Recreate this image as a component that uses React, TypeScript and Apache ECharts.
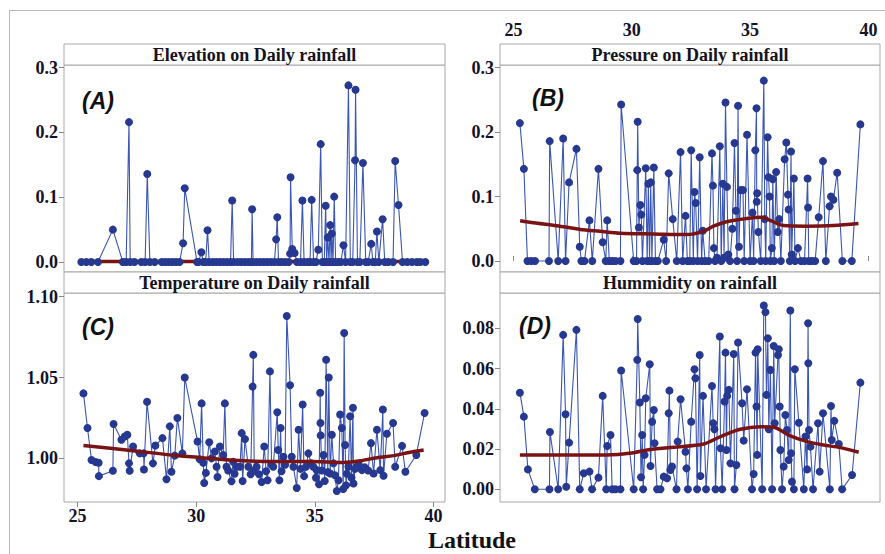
import React, { useEffect, useRef } from "react";
import * as echarts from "echarts";

const latitudeTicks = [25, 30, 35, 40];
const elevationTicks = [0, 0.1, 0.2, 0.3];
const pressureTicks = [0, 0.1, 0.2, 0.3];
const temperatureTicks = [1.0, 1.05, 1.1];
const humidityTicks = [0, 0.02, 0.04, 0.06, 0.08];

const panelTitles = [
  "Elevation on Daily rainfall",
  "Pressure on Daily rainfall",
  "Temperature on Daily rainfall",
  "Hummidity on rainfall",
];
const panelLetters = ["(A)", "(B)", "(C)", "(D)"];
const xAxisTitle = "Latitude";

// [latitude, value]
const elevationPoints = [
  [25.16, 0], [25.37, 0], [25.58, 0], [25.86, 0], [26.49, 0.05], [26.91, 0], [27.05, 0], [27.17, 0.216],
  [27.22, 0], [27.4, 0], [27.69, 0], [27.85, 0], [27.94, 0.136], [28.05, 0], [28.25, 0], [28.55, 0],
  [28.7, 0], [28.85, 0], [29.0, 0], [29.15, 0], [29.3, 0], [29.45, 0.029], [29.52, 0.114], [30.04, 0],
  [30.1, 0], [30.22, 0.015], [30.3, 0], [30.4, 0], [30.48, 0.049], [30.55, 0], [30.7, 0], [30.85, 0],
  [31.0, 0], [31.15, 0], [31.3, 0], [31.45, 0], [31.52, 0.095], [31.58, 0], [31.75, 0], [31.9, 0],
  [32.05, 0], [32.2, 0], [32.33, 0], [32.36, 0.0815], [32.4, 0], [32.55, 0], [32.7, 0], [32.85, 0],
  [33.0, 0], [33.15, 0], [33.3, 0], [33.37, 0.035], [33.42, 0.069], [33.47, 0], [33.6, 0], [33.75, 0],
  [33.9, 0], [33.96, 0.013], [33.98, 0.131], [34.05, 0.02], [34.15, 0.014], [34.25, 0], [34.4, 0],
  [34.48, 0.095], [34.55, 0], [34.7, 0], [34.8, 0], [34.87, 0.096], [34.95, 0], [35.05, 0], [35.15, 0.019],
  [35.25, 0.182], [35.32, 0], [35.4, 0], [35.46, 0.087], [35.5, 0], [35.55, 0.038], [35.6, 0], [35.65, 0.057],
  [35.69, 0], [35.72, 0.044], [35.77, 0], [35.82, 0.101], [35.88, 0], [36.0, 0], [36.1, 0], [36.21, 0.026],
  [36.3, 0], [36.42, 0.2727], [36.5, 0], [36.6, 0], [36.7, 0.157], [36.72, 0.266], [36.8, 0], [36.9, 0],
  [37.03, 0.153], [37.15, 0], [37.25, 0], [37.38, 0.028], [37.45, 0], [37.55, 0], [37.62, 0.047], [37.7, 0],
  [37.86, 0.066], [37.95, 0], [38.1, 0], [38.3, 0], [38.39, 0.156], [38.53, 0.088], [38.7, 0], [38.9, 0],
  [39.1, 0], [39.3, 0], [39.45, 0], [39.66, 0],
];
const elevationTrend = [[25.4, 0.001], [30, 0.001], [35, 0.001], [39.3, 0.001]];

const pressurePoints = [
  [25.27, 0.214], [25.44, 0.143], [25.59, 0], [25.75, 0], [25.91, 0], [26.5, 0], [26.53, 0.186], [26.89, 0],
  [27.1, 0.19], [27.2, 0], [27.35, 0.122], [27.66, 0.174], [27.8, 0.022], [27.87, 0], [28.0, 0], [28.21, 0.063],
  [28.33, 0], [28.59, 0.143], [28.77, 0.029], [28.9, 0], [28.96, 0.063], [29.05, 0], [29.17, 0], [29.31, 0],
  [29.52, 0], [29.55, 0.243], [30.08, 0], [30.2, 0], [30.23, 0.141], [30.25, 0.216], [30.3, 0.052],
  [30.36, 0.087], [30.4, 0.072], [30.45, 0], [30.59, 0.144], [30.65, 0], [30.7, 0.12], [30.75, 0],
  [30.8, 0.122], [30.85, 0], [30.93, 0.145], [31.0, 0], [31.1, 0], [31.35, 0.033], [31.45, 0], [31.56, 0.136],
  [31.73, 0.065], [31.9, 0], [32.06, 0.169], [32.15, 0], [32.27, 0.07], [32.35, 0], [32.45, 0], [32.51, 0.172],
  [32.6, 0], [32.65, 0.107], [32.7, 0.09], [32.78, 0], [32.87, 0.161], [32.95, 0], [33.0, 0.047], [33.1, 0],
  [33.25, 0], [33.39, 0.167], [33.43, 0.117], [33.47, 0.02], [33.52, 0], [33.6, 0.005], [33.72, 0.178],
  [33.78, 0], [33.85, 0.12], [33.9, 0.005], [33.96, 0.246], [34.02, 0.115], [34.08, 0.01], [34.15, 0],
  [34.25, 0.05], [34.34, 0.183], [34.4, 0.078], [34.45, 0], [34.49, 0.241], [34.53, 0.022], [34.6, 0.11],
  [34.7, 0.11], [34.75, 0], [34.87, 0.196], [35.0, 0], [35.1, 0.075], [35.15, 0], [35.22, 0.172],
  [35.27, 0.237], [35.28, 0.092], [35.3, 0.105], [35.35, 0.045], [35.45, 0], [35.58, 0.28], [35.62, 0.065],
  [35.66, 0], [35.74, 0.192], [35.78, 0.13], [35.82, 0.1], [35.86, 0], [35.92, 0.02], [35.96, 0.127],
  [36.02, 0], [36.1, 0.138], [36.17, 0.045], [36.23, 0.065], [36.3, 0], [36.46, 0.158], [36.53, 0.184],
  [36.6, 0.103], [36.63, 0.08], [36.68, 0], [36.73, 0.17], [36.76, 0.01], [36.85, 0.128], [36.9, 0],
  [37.02, 0.02], [37.15, 0], [37.3, 0], [37.43, 0.128], [37.45, 0.083], [37.48, 0], [37.6, 0], [37.75, 0],
  [37.9, 0.068], [38.08, 0.155], [38.2, 0], [38.36, 0.085], [38.42, 0.1], [38.52, 0.095], [38.68, 0.137],
  [38.9, 0], [39.3, 0], [39.66, 0.212],
];
const pressureTrend = [
  [25.28, 0.0626], [25.85, 0.0595], [26.83, 0.0548], [27.82, 0.049], [28.66, 0.046], [29.51, 0.043],
  [30.92, 0.042], [32.33, 0.041], [33.03, 0.046], [33.45, 0.054], [34.01, 0.061], [34.86, 0.066],
  [35.49, 0.068], [35.85, 0.063], [36.41, 0.055], [37.4, 0.054], [38.53, 0.055], [39.58, 0.058],
];

const temperaturePoints = [
  [25.25, 1.0402], [25.42, 1.0188], [25.59, 0.999], [25.76, 0.9977], [25.89, 0.9973], [25.9, 0.989],
  [26.49, 0.9923], [26.52, 1.0213], [26.85, 1.0115], [26.99, 1.0135], [27.1, 1.0146], [27.17, 0.9969],
  [27.2, 0.9923], [27.34, 1.0073], [27.62, 1.0031], [27.79, 1.0031], [27.8, 0.9931], [27.93, 1.035],
  [28.18, 0.9969], [28.28, 1.0079], [28.58, 1.0125], [28.75, 0.9871], [28.89, 1.0198], [28.96, 0.9917],
  [29.1, 1.0017], [29.21, 1.025], [29.42, 1.0031], [29.52, 1.05], [30.06, 1.0104], [30.15, 0.9994],
  [30.23, 1.034], [30.3, 0.9973], [30.34, 0.9848], [30.41, 0.991], [30.55, 1.01], [30.65, 1.0],
  [30.79, 1.0042], [30.86, 0.9948], [30.9, 0.9885], [31.0, 1.0073], [31.14, 1.0021], [31.21, 1.034],
  [31.28, 0.9948], [31.35, 0.9925], [31.49, 0.9858], [31.56, 0.9979], [31.62, 0.9905], [31.7, 0.9948],
  [31.85, 0.9948], [31.92, 1.0156], [31.96, 0.986], [32.06, 1.0119], [32.2, 0.9948], [32.3, 0.9902],
  [32.38, 1.0444], [32.41, 1.064], [32.45, 0.9925], [32.55, 0.9948], [32.65, 0.9902], [32.76, 0.9854],
  [32.87, 1.0073], [32.95, 0.992], [33.01, 0.9865], [33.11, 1.0538], [33.18, 0.996], [33.25, 0.9948],
  [33.42, 1.0285], [33.46, 1.0052], [33.51, 0.9865], [33.56, 1.0188], [33.6, 0.992], [33.68, 1.001],
  [33.75, 0.996], [33.82, 1.0881], [33.96, 1.0452], [34.03, 1.001], [34.1, 0.9948], [34.24, 0.9817],
  [34.32, 1.0177], [34.4, 0.9935], [34.49, 1.0333], [34.55, 0.989], [34.63, 0.9948], [34.73, 1.0031],
  [34.85, 0.997], [34.94, 0.9948], [35.05, 0.988], [35.08, 0.9927], [35.18, 0.984], [35.23, 1.0406],
  [35.24, 1.0219], [35.25, 1.0142], [35.3, 0.9925], [35.37, 1.0021], [35.42, 0.986], [35.48, 1.061],
  [35.55, 0.9915], [35.59, 1.05], [35.65, 0.9906], [35.72, 1.0146], [35.79, 0.9969], [35.85, 0.9895],
  [35.93, 0.9798], [36.0, 0.9865], [36.07, 1.0271], [36.14, 1.0188], [36.2, 0.981], [36.24, 1.0775],
  [36.28, 1.0083], [36.32, 0.9833], [36.35, 0.9905], [36.42, 0.9948], [36.49, 1.026], [36.55, 0.988],
  [36.61, 1.0313], [36.63, 0.9844], [36.7, 0.9935], [36.77, 0.9948], [36.85, 0.9965], [36.99, 0.9927],
  [37.1, 0.9945], [37.25, 0.9925], [37.37, 1.0094], [37.48, 0.9906], [37.62, 1.0177], [37.76, 0.9927],
  [37.87, 1.0302], [37.9, 0.9892], [38.04, 1.0152], [38.3, 1.0219], [38.39, 0.9948], [38.68, 1.0077],
  [38.82, 0.9917], [39.28, 1.0021], [39.63, 1.0281],
];
const temperatureTrend = [
  [25.25, 1.0079], [27.06, 1.0052], [29.17, 1.0017], [30.58, 1.0], [31.99, 0.9985], [33.39, 0.998],
  [34.8, 0.998], [36.21, 0.9975], [36.92, 0.9985], [37.62, 1.0004], [38.32, 1.0017], [39.03, 1.0038],
  [39.59, 1.0052],
];

const humidityPoints = [
  [25.27, 0.048], [25.44, 0.0361], [25.61, 0.0099], [25.9, 0], [26.52, 0], [26.54, 0.0285], [26.89, 0],
  [27.1, 0.0767], [27.2, 0.0373], [27.23, 0.0013], [27.35, 0.0232], [27.66, 0.0792], [27.8, 0], [27.97, 0.008],
  [28.21, 0.0088], [28.32, 0], [28.59, 0.0058], [28.77, 0.0464], [28.92, 0], [28.96, 0.0215], [29.1, 0.027],
  [29.17, 0], [29.31, 0], [29.52, 0], [29.55, 0.059], [30.08, 0], [30.23, 0.0643], [30.25, 0.0846],
  [30.34, 0.0431], [30.39, 0.006], [30.44, 0.027], [30.48, 0], [30.54, 0.0171], [30.59, 0.0452],
  [30.76, 0.0621], [30.79, 0.0116], [30.86, 0.0336], [30.93, 0.0394], [30.96, 0.0229], [31.07, 0],
  [31.21, 0], [31.35, 0.0063], [31.49, 0.0055], [31.56, 0.0378], [31.59, 0.049], [31.63, 0.0096],
  [31.7, 0.0113], [31.89, 0], [31.94, 0.0237], [32.06, 0.0447], [32.27, 0.0187], [32.31, 0.0104], [32.37, 0],
  [32.51, 0.0336], [32.65, 0.0596], [32.69, 0.0552], [32.76, 0], [32.87, 0.0667], [32.9, 0.0066],
  [33.01, 0.0464], [33.14, 0], [33.39, 0.0513], [33.44, 0.0328], [33.49, 0.0298], [33.54, 0], [33.72, 0.0759],
  [33.75, 0.0204], [33.82, 0], [33.92, 0.0436], [33.96, 0.0679], [34.0, 0.0195], [34.03, 0.0464],
  [34.1, 0.0494], [34.17, 0.0129], [34.31, 0.0672], [34.34, 0], [34.42, 0.0121], [34.49, 0.0729],
  [34.66, 0.0427], [34.73, 0.0242], [34.87, 0.0497], [35.08, 0], [35.15, 0.0076], [35.23, 0.0679],
  [35.27, 0.0411], [35.3, 0.0171], [35.32, 0.0696], [35.51, 0], [35.58, 0.0913], [35.65, 0.088],
  [35.69, 0.0469], [35.75, 0.075], [35.79, 0.0298], [35.86, 0.0593], [35.93, 0], [36.0, 0.0712],
  [36.04, 0.0328], [36.18, 0.0667], [36.21, 0.0696], [36.25, 0.0411], [36.28, 0.0195], [36.35, 0],
  [36.42, 0.0113], [36.49, 0.0369], [36.56, 0.0295], [36.63, 0.0146], [36.7, 0.0888], [36.73, 0.0179],
  [36.77, 0.0038], [36.85, 0], [36.89, 0.0596], [37.06, 0.0331], [37.27, 0], [37.34, 0.0262], [37.41, 0.0099],
  [37.45, 0.0825], [37.46, 0.0626], [37.49, 0.0295], [37.55, 0.0212], [37.66, 0], [37.87, 0.0328],
  [37.94, 0.0088], [38.08, 0.0378], [38.37, 0], [38.42, 0.0414], [38.45, 0.0245], [38.56, 0.034],
  [38.75, 0.0225], [38.89, 0], [39.31, 0.0071], [39.66, 0.053],
];
const humidityTrend = [
  [25.27, 0.0171], [28.96, 0.0171], [30.08, 0.0182], [30.65, 0.0195], [31.77, 0.0209], [33.04, 0.0225],
  [33.75, 0.0262], [34.59, 0.0298], [35.44, 0.0311], [36.0, 0.0308], [36.7, 0.0265], [37.41, 0.0237],
  [38.11, 0.022], [38.82, 0.0207], [39.59, 0.0184],
];

const byLat = (arr: number[][]) => arr.map((p) => p.slice()).sort((a, b) => a[0] - b[0]);

export default function App() {
  const ref = useRef<HTMLDivElement>(null);

  useEffect(() => {
    if (!ref.current) return;
    const chart = echarts.init(ref.current, undefined, { renderer: "svg" });

    const boxes = [
      { left: 64, top: 44, width: 381, height: 228 },
      { left: 500, top: 44, width: 380, height: 228 },
      { left: 64, top: 272, width: 381, height: 230 },
      { left: 500, top: 272, width: 380, height: 230 },
    ];
    const strip = 21;
    const border = "#a8a8a8";
    const labelFont = { fontFamily: "Liberation Serif", fontWeight: "bold" as const, fontSize: 18, color: "#12122a" };

    const yRanges = [
      { min: -0.0154, max: 0.3042, ticks: elevationTicks, dec: 1 },
      { min: -0.0171, max: 0.3042, ticks: pressureTicks, dec: 1 },
      { min: 0.973, max: 1.1023, ticks: temperatureTicks, dec: 2 },
      { min: -0.0063, max: 0.0975, ticks: humidityTicks, dec: 2 },
    ];
    const pointSets = [elevationPoints, pressurePoints, temperaturePoints, humidityPoints];
    const trendSets = [elevationTrend, pressureTrend, temperatureTrend, humidityTrend];
    const letterPos = [[98, 101], [548, 98], [98, 327], [535, 326]];

    const grid = boxes.map((b) => ({
      left: b.left, top: b.top + strip, width: b.width, height: b.height - strip,
      show: true, borderColor: border, borderWidth: 1, backgroundColor: "transparent",
    }));

    const xAxis = boxes.map((_, i) => {
      const shown = i === 1 || i === 2;
      return {
        gridIndex: i, type: "value", min: 24.43, max: 40.49,
        position: i === 1 ? "top" : "bottom",
        offset: i === 1 ? strip : 0,
        splitLine: { show: false },
        axisLine: { show: false },
        axisTick: { show: shown, customValues: latitudeTicks, length: 5, lineStyle: { color: "#888" } },
        axisLabel: { show: shown, customValues: latitudeTicks, margin: 5, ...labelFont, formatter: (v: number) => String(v) },
      };
    });

    const yAxis = yRanges.map((r, i) => ({
      gridIndex: i, type: "value", min: r.min, max: r.max,
      splitLine: { show: false },
      axisLine: { show: false },
      axisTick: { show: true, customValues: r.ticks, length: 5, lineStyle: { color: "#888" } },
      axisLabel: { show: true, customValues: r.ticks, margin: 6, ...labelFont, formatter: (v: number) => v.toFixed(r.dec) },
    }));

    const series: any[] = [];
    pointSets.forEach((pts, i) => {
      series.push({
        type: "line", xAxisIndex: i, yAxisIndex: i, data: byLat(pts),
        symbol: "circle", symbolSize: 8, showSymbol: true,
        lineStyle: { color: "#3b56b4", width: 1.1 },
        itemStyle: { color: "#26388f" },
        z: 3,
      });
      series.push({
        type: "line", xAxisIndex: i, yAxisIndex: i, data: trendSets[i],
        symbol: "none", smooth: 0.3,
        lineStyle: { color: "#7a1414", width: 3.5 },
        z: i === 0 ? 2 : 4,
      });
    });

    const graphic: any[] = [
      { type: "line", shape: { x1: 9, y1: 10.5, x2: 885, y2: 10.5 }, style: { stroke: "#b8b8b8", lineWidth: 1 } },
      { type: "line", shape: { x1: 9.5, y1: 10, x2: 9.5, y2: 554 }, style: { stroke: "#b8b8b8", lineWidth: 1 } },
    ];
    boxes.forEach((b, i) => {
      graphic.push({
        type: "rect", shape: { x: b.left, y: b.top, width: b.width, height: strip },
        style: { fill: "#fff", stroke: border, lineWidth: 1 }, z: 10,
      });
      graphic.push({
        type: "text", x: b.left + b.width / 2, y: b.top + strip / 2 + 0.5, z: 11,
        style: {
          text: panelTitles[i], font: 'bold 18px "Liberation Serif"', fill: "#14141e",
          textAlign: "center", textVerticalAlign: "middle",
        },
      });
      graphic.push({
        type: "text", x: letterPos[i][0], y: letterPos[i][1], z: 11,
        style: {
          text: panelLetters[i], font: 'italic bold 23px "Liberation Sans"', fill: "#111",
          textAlign: "center", textVerticalAlign: "middle",
        },
      });
    });
    graphic.push({
      type: "text", x: 472, y: 540, z: 11,
      style: {
        text: xAxisTitle, font: 'bold 24px "Liberation Serif"', fill: "#111",
        textAlign: "center", textVerticalAlign: "middle",
      },
    });

    chart.setOption({
      animation: false,
      backgroundColor: "#fff",
      grid, xAxis, yAxis, series, graphic,
    });

    return () => chart.dispose();
  }, []);

  return (
    <div
      ref={ref}
      style={{ position: "absolute", left: 0, top: 0, width: 885, height: 554, background: "#fff" }}
    />
  );
}
